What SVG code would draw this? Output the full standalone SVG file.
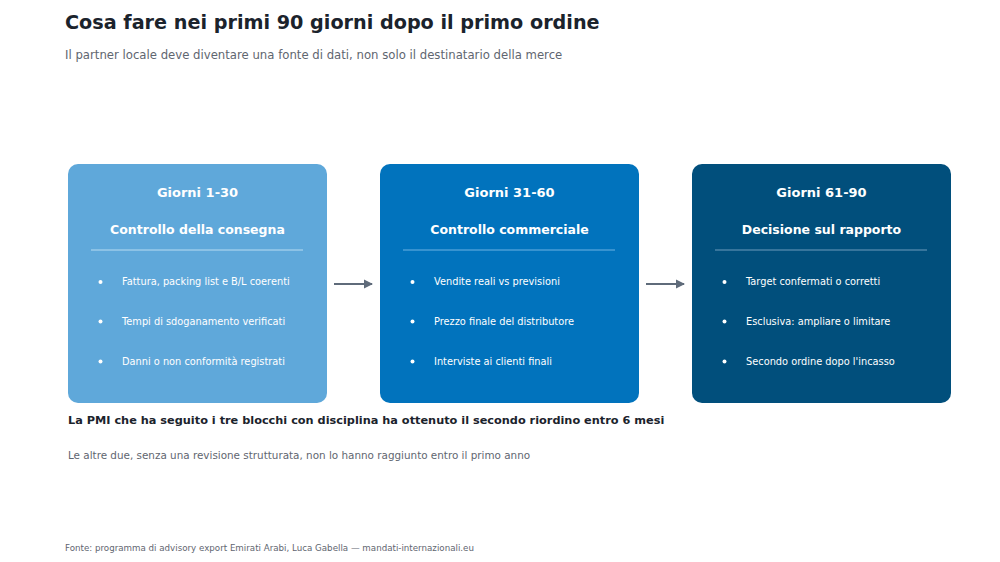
<svg xmlns="http://www.w3.org/2000/svg" width="1000" height="562" viewBox="0 0 1000 562">
<style>
text{font-family:"DejaVu Sans",sans-serif}
.title{font-size:19.2px;font-weight:bold;fill:#1b232c}
.sub{font-size:11.7px;fill:#5f6670}
.h1{font-size:13px;font-weight:bold;fill:#ffffff;text-anchor:middle}
.h2{font-size:12.5px;font-weight:bold;fill:#ffffff;text-anchor:middle}
.li{font-size:9.8px;fill:#ffffff}
.dot{fill:#ffffff}
.div{stroke-width:1}
.note1{font-size:11.3px;font-weight:bold;fill:#1b232c}
.note2{font-size:10.4px;fill:#5f6670}
.foot{font-size:8.7px;fill:#5f6670}
.conn{stroke:#5f6b7a;stroke-width:2;fill:none}
</style>
<defs>
<marker id="ah" markerWidth="10" markerHeight="10" refX="8" refY="5" orient="auto" markerUnits="userSpaceOnUse">
<path d="M0,0.5 L9,5 L0,9.5 Z" fill="#5f6b7a"/>
</marker>
</defs>
<rect width="1000" height="562" fill="#ffffff"/>
<text class="title" x="65" y="29">Cosa fare nei primi 90 giorni dopo il primo ordine</text>
<text class="sub" x="65" y="59">Il partner locale deve diventare una fonte di dati, non solo il destinatario della merce</text>

<g id="node1">
<rect x="68" y="164" width="259" height="239" rx="10" fill="#5fa8da"/>
<text class="h1" x="197.5" y="197">Giorni 1-30</text>
<text class="h2" x="197.5" y="234">Controllo della consegna</text>
<line class="div" x1="91" y1="250" x2="303" y2="250" stroke="#b9dcf2"/>
<circle class="dot" cx="100.5" cy="282" r="2"/>
<text class="li" x="122" y="285">Fattura, packing list e B/L coerenti</text>
<circle class="dot" cx="100.5" cy="321.5" r="2"/>
<text class="li" x="122" y="324.5">Tempi di sdoganamento verificati</text>
<circle class="dot" cx="100.5" cy="361.5" r="2"/>
<text class="li" x="122" y="364.5">Danni o non conformità registrati</text>
</g>

<g id="node2">
<rect x="380" y="164" width="259" height="239" rx="10" fill="#0173bd"/>
<text class="h1" x="509.5" y="197">Giorni 31-60</text>
<text class="h2" x="509.5" y="234">Controllo commerciale</text>
<line class="div" x1="403" y1="250" x2="615" y2="250" stroke="#6fb3e3"/>
<circle class="dot" cx="412.5" cy="282" r="2"/>
<text class="li" x="434" y="285">Vendite reali vs previsioni</text>
<circle class="dot" cx="412.5" cy="321.5" r="2"/>
<text class="li" x="434" y="324.5">Prezzo finale del distributore</text>
<circle class="dot" cx="412.5" cy="361.5" r="2"/>
<text class="li" x="434" y="364.5">Interviste ai clienti finali</text>
</g>

<g id="node3">
<rect x="692" y="164" width="259" height="239" rx="10" fill="#014f7c"/>
<text class="h1" x="821.5" y="197">Giorni 61-90</text>
<text class="h2" x="821.5" y="234">Decisione sul rapporto</text>
<line class="div" x1="715" y1="250" x2="927" y2="250" stroke="#6f9cbc"/>
<circle class="dot" cx="724.5" cy="282" r="2"/>
<text class="li" x="746" y="285">Target confermati o corretti</text>
<circle class="dot" cx="724.5" cy="321.5" r="2"/>
<text class="li" x="746" y="324.5">Esclusiva: ampliare o limitare</text>
<circle class="dot" cx="724.5" cy="361.5" r="2"/>
<text class="li" x="746" y="364.5">Secondo ordine dopo l'incasso</text>
</g>

<g id="connectors">
<line class="conn" x1="334" y1="284" x2="372" y2="284" marker-end="url(#ah)"/>
<line class="conn" x1="646" y1="284" x2="684" y2="284" marker-end="url(#ah)"/>
</g>

<text class="note1" x="68" y="424">La PMI che ha seguito i tre blocchi con disciplina ha ottenuto il secondo riordino entro 6 mesi</text>
<text class="note2" x="68" y="458.5">Le altre due, senza una revisione strutturata, non lo hanno raggiunto entro il primo anno</text>
<text class="foot" x="65" y="551">Fonte: programma di advisory export Emirati Arabi, Luca Gabella — mandati-internazionali.eu</text>
</svg>
